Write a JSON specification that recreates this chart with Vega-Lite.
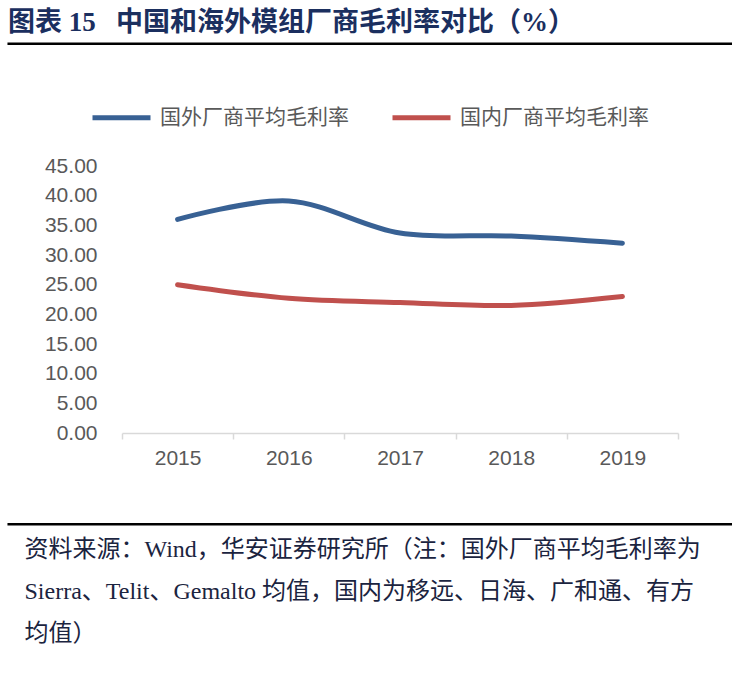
{
  "$schema": "https://vega.github.io/schema/vega-lite/v6.json",
  "width": 556,
  "height": 267,
  "autosize": {"type": "none"},
  "padding": {"left": 122, "top": 166, "right": 54, "bottom": 245},
  "background": "white",
  "title": {
    "text": "图表\u00a015\u00a0\u00a0\u00a0中国和海外模组厂商毛利率对比（%）",
    "anchor": "start",
    "frame": "group",
    "dx": -114,
    "dy": 36,
    "offset": 42,
    "font": "Liberation Serif, Noto Sans CJK SC",
    "fontSize": 27,
    "fontWeight": "bold",
    "color": "#1B2F5F"
  },
  "config": {
    "view": {"stroke": null}
  },
  "layer": [
    {
      "data": {"values": [{}]},
      "mark": {"type": "rule", "color": "#000000", "strokeWidth": 2.5},
      "encoding": {
        "x": {"datum": 2013.47, "type": "quantitative", "scale": {"domain": [2014.5, 2019.5], "nice": false, "zero": false}, "axis": null},
        "x2": {"datum": 2020.2},
        "y": {"datum": 65.6, "type": "quantitative", "scale": {"domain": [0, 45], "nice": false, "zero": false}, "axis": null}
      }
    },
    {
      "data": {"values": [{}]},
      "mark": {"type": "rule", "color": "#000000", "strokeWidth": 2.5},
      "encoding": {
        "x": {
          "datum": 2013.47,
          "type": "quantitative",
          "scale": {"domain": [2014.5, 2019.5], "nice": false, "zero": false},
          "axis": {
            "orient": "bottom",
            "values": [2014.5, 2015.5, 2016.5, 2017.5, 2018.5, 2019.5],
            "labels": false,
            "grid": false,
            "ticks": true,
            "tickSize": 6,
            "tickColor": "#D9D9D9",
            "tickWidth": 1.5,
            "domain": true,
            "domainColor": "#D9D9D9",
            "domainWidth": 1.5,
            "title": null
          }
        },
        "x2": {"datum": 2020.2},
        "y": {"datum": -15.4, "type": "quantitative", "scale": {"domain": [0, 45], "nice": false, "zero": false}, "axis": null}
      }
    },
    {
      "data": {
        "values": [
          {"year": 2015, "series": "国外厂商平均毛利率", "value": 36.0},
          {"year": 2016, "series": "国外厂商平均毛利率", "value": 39.1},
          {"year": 2017, "series": "国外厂商平均毛利率", "value": 33.7},
          {"year": 2018, "series": "国外厂商平均毛利率", "value": 33.2},
          {"year": 2019, "series": "国外厂商平均毛利率", "value": 32.0},
          {"year": 2015, "series": "国内厂商平均毛利率", "value": 25.0},
          {"year": 2016, "series": "国内厂商平均毛利率", "value": 22.7},
          {"year": 2017, "series": "国内厂商平均毛利率", "value": 22.0},
          {"year": 2018, "series": "国内厂商平均毛利率", "value": 21.5},
          {"year": 2019, "series": "国内厂商平均毛利率", "value": 23.0}
        ]
      },
      "mark": {"type": "line", "strokeWidth": 5, "strokeCap": "round", "interpolate": "cardinal"},
      "encoding": {
        "x": {
          "field": "year",
          "type": "quantitative",
          "scale": {"domain": [2014.5, 2019.5], "nice": false, "zero": false},
          "axis": {
            "orient": "bottom",
            "values": [2015, 2016, 2017, 2018, 2019],
            "format": "d",
            "grid": false,
            "ticks": false,
            "tickSize": 0,
            "domain": false,
            "labelFont": "Liberation Sans",
            "labelFontSize": 21,
            "labelColor": "#595959",
            "labelPadding": 14,
            "title": [
              "资料来源：Wind，华安证券研究所（注：国外厂商平均毛利率为",
              "Sierra、Telit、Gemalto 均值，国内为移远、日海、广和通、有方",
              "均值）"
            ],
            "titleFont": "Liberation Serif, Noto Sans CJK SC",
            "titleFontSize": 24,
            "titleFontWeight": "normal",
            "titleColor": "#1B2440",
            "titleAlign": "left",
            "titleAnchor": "start",
            "titleBaseline": "alphabetic",
            "titleAngle": 0,
            "titleX": -98,
            "titleY": 123,
            "titleLineHeight": 42
          }
        },
        "y": {
          "field": "value",
          "type": "quantitative",
          "scale": {"domain": [0, 45], "nice": false, "zero": false},
          "axis": {
            "orient": "left",
            "values": [0, 5, 10, 15, 20, 25, 30, 35, 40, 45],
            "format": ".2f",
            "grid": false,
            "ticks": false,
            "tickSize": 0,
            "domain": false,
            "labelFont": "Liberation Sans",
            "labelFontSize": 21,
            "labelColor": "#595959",
            "labelPadding": 25,
            "title": null
          }
        },
        "color": {
          "field": "series",
          "type": "nominal",
          "scale": {
            "domain": ["国外厂商平均毛利率", "国内厂商平均毛利率"],
            "range": ["#386194", "#C0504D"]
          },
          "legend": {
            "orient": "none",
            "legendX": -32,
            "legendY": -80,
            "direction": "horizontal",
            "title": null,
            "symbolType": "stroke",
            "symbolSize": 3364,
            "symbolStrokeWidth": 5,
            "labelFont": "Noto Sans CJK SC",
            "labelFontSize": 21,
            "labelColor": "#595959",
            "labelLimit": 400,
            "labelOffset": 7,
            "columnPadding": 33
          }
        }
      }
    }
  ],
  "resolve": {"axis": {"x": "independent", "y": "independent"}}
}
